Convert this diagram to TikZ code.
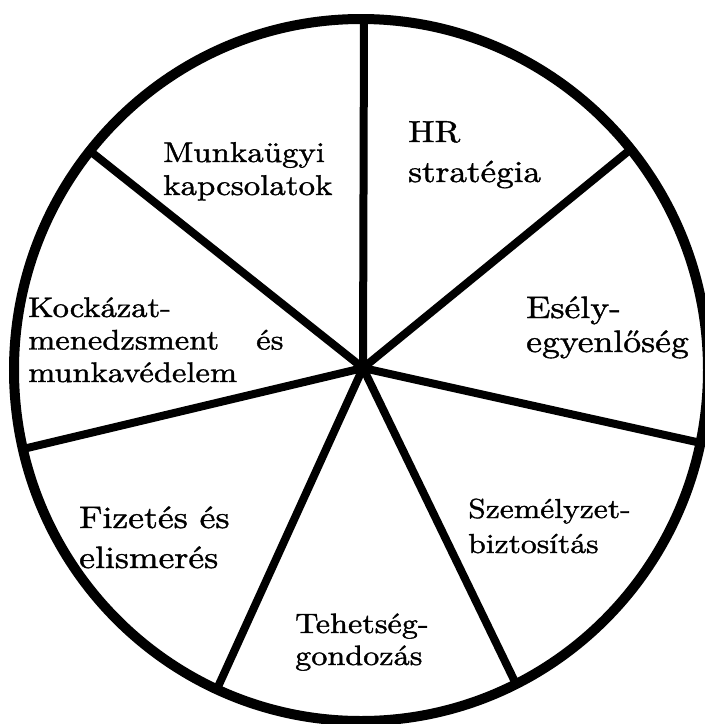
\documentclass[tikz,border=0pt]{standalone}
\usepackage{fontspec}
\setmainfont{lmroman10-regular.otf}[FakeBold=1.2]
\begin{document}
\begin{tikzpicture}[x=1pt,y=-1pt,
  rim/.style={line width=10pt},
  spoke/.style={line width=8pt},
  area/.style={anchor=base west, inner sep=0pt, align=left,
               xscale=1.15, transform shape}]
\useasboundingbox (0,0) rectangle (705,724);

% outer wheel
\draw[rim] (361,370) ellipse [x radius=347pt, y radius=351pt];

% hub and the points where the dividers meet the rim
\coordinate (hub) at (363,368);
\coordinate (rimT)  at (364,19);
\coordinate (rimUR) at (631,149);
\coordinate (rimR)  at (701,443);
\coordinate (rimBR) at (516,684);
\coordinate (rimBL) at (217,689);
\coordinate (rimL)  at (23,449);
\coordinate (rimUL) at (90,151);

\foreach \p in {rimT,rimUR,rimR,rimBR,rimBL,rimL,rimUL}
  \draw[spoke] (hub) -- (\p);

% sector labels (each node sits on the baseline of its last line)
\node[area, font=\fontsize{28.6}{33}\selectfont] (munka) at (163,195)
  {Munkaügyi\\kapcsolatok};
\node[area, font=\fontsize{30.5}{40}\selectfont] (hr) at (408,182)
  {HR\\stratégia};
\node[area, font=\fontsize{31}{34}\selectfont] (esely) at (526,352)
  {Esély-\\egyenlőség};
\node[area, font=\fontsize{28.3}{32.5}\selectfont] (kock) at (28,382)
  {Kockázat-\\\makebox[222pt][s]{menedzsment\hfill és}\\munkavédelem};
\node[area, font=\fontsize{31}{40}\selectfont] (fiz) at (79,568)
  {Fizetés és\\elismerés};
\node[area, font=\fontsize{28}{32}\selectfont] (teh) at (295,665)
  {Tehetség-\\gondozás};
\node[area, font=\fontsize{27.5}{35}\selectfont] (szem) at (468,553)
  {Személyzet-\\biztosítás};
\end{tikzpicture}
\end{document}
